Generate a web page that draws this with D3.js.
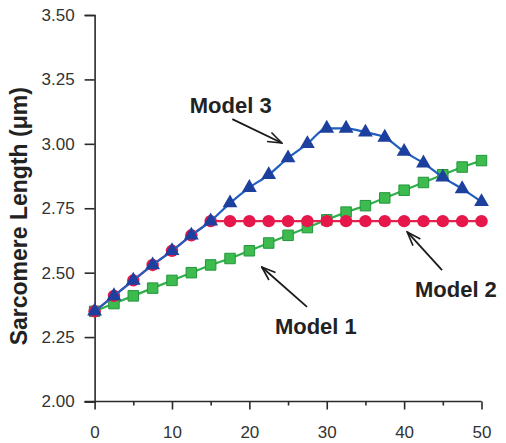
<!DOCTYPE html>
<html>
<head>
<meta charset="utf-8">
<script src="https://cdn.jsdelivr.net/npm/d3@7"></script>
<style>
  body { margin: 0; background: #fff; }
  text { font-family: "Liberation Sans", Arial, sans-serif; }
</style>
</head>
<body>
<div class="box"></div>
<script>
// data
const xs = [0, 2.5, 5, 7.5, 10, 12.5, 15, 17.5, 20, 22.5, 25, 27.5, 30, 32.5, 35, 37.5, 40, 42.5, 45, 47.5, 50]
const model1 = [2.35, 2.38, 2.41, 2.44, 2.47, 2.50, 2.53, 2.555, 2.585, 2.615, 2.645, 2.675, 2.705, 2.735, 2.76, 2.79, 2.82, 2.85, 2.88, 2.91, 2.935]
const model2 = [2.35, 2.41, 2.47, 2.53, 2.585, 2.645, 2.70, 2.70, 2.70, 2.70, 2.70, 2.70, 2.70, 2.70, 2.70, 2.70, 2.70, 2.70, 2.70, 2.70, 2.70]
const model3 = [2.35, 2.41, 2.47, 2.53, 2.585, 2.645, 2.70, 2.77, 2.83, 2.88, 2.945, 3.00, 3.06, 3.06, 3.045, 3.025, 2.97, 2.925, 2.87, 2.825, 2.775]
const yTicks = [2.00, 2.25, 2.50, 2.75, 3.00, 3.25, 3.50]
const xTicks = [0, 10, 20, 30, 40, 50]
const xMinor = [5, 15, 25, 35, 45]
const yTitle = 'Sarcomere Length (μm)'

// labels and their arrows, in data units: [text, textX, textY, fromX, fromY, toX, toY]
const notes = [
  ['Model 3', 12.3, 3.12, 17.8, 3.096, 24.2, 3.003],
  ['Model 2', 41.4, 2.406, 44.9, 2.51, 40.4, 2.658],
  ['Model 1', 23.3, 2.262, 27.45, 2.367, 21.6, 2.522]
]

const W = 506, H = 443
const margin = {top: 15, right: 24.5, bottom: 41.5, left: 94.6}
const graphWidth = W - margin.left - margin.right
const graphHeight = H - margin.top - margin.bottom

const svg = d3.select('.box')
  .append('svg')
  .attr('width', W)
  .attr('height', H)

const graph = svg.append('g')
  .attr('transform', `translate(${margin.left}, ${margin.top})`)

const x = d3.scaleLinear().domain([0, 50]).range([0, graphWidth])
const y = d3.scaleLinear().domain([2, 3.5]).range([graphHeight, 0])

const axisColor = '#2a2a2a'

// axes
const axeX = d3.axisBottom(x).tickValues(xTicks).tickSize(8).tickPadding(16).tickFormat(d3.format('d'))
const axeXMinor = d3.axisBottom(x).tickValues(xMinor).tickSize(4).tickFormat('')
const axeY = d3.axisLeft(y).tickValues(yTicks).tickSize(10).tickPadding(10).tickFormat(d3.format('.2f'))

const groupX = graph.append('g').attr('transform', `translate(0, ${graphHeight})`)
groupX.call(axeX)
graph.append('g').attr('transform', `translate(0, ${graphHeight})`).call(axeXMinor)
  .select('.domain').remove()
const groupY = graph.append('g').call(axeY)

graph.selectAll('.domain').attr('stroke', axisColor).attr('stroke-width', 1.6)
graph.selectAll('.tick line').attr('stroke', axisColor).attr('stroke-width', 1.6)
graph.selectAll('.tick text').attr('fill', '#333').style('font-size', '17px')
  .style('font-family', '"Liberation Sans", Arial, sans-serif')
// x axis line reaches the end of the 2.00 tick
groupX.select('.domain').attr('d', `M-10,0H${graphWidth}`)

// y title
svg.append('text')
  .attr('transform', `translate(27, ${margin.top + graphHeight / 2 + 8}) rotate(-90)`)
  .attr('text-anchor', 'middle')
  .attr('fill', '#222')
  .style('font-size', '23px')
  .style('font-weight', 'bold')
  .text(yTitle)

// series
const series = [
  {vals: model1, line: '#2fb04a', shape: 'square'},
  {vals: model2, line: '#e5214d', shape: 'circle'},
  {vals: model3, line: '#1f5fc0', shape: 'triangle'}
]

series.forEach(s => {
  const pts = xs.map((v, i) => [v, s.vals[i]])
  const line = d3.line()
    .x(d => x(d[0]))
    .y(d => y(d[1]))
    .curve(s.shape === 'triangle' ? d3.curveMonotoneX : d3.curveLinear)
  graph.append('path')
    .datum(pts)
    .attr('fill', 'none')
    .attr('stroke', s.line)
    .attr('stroke-width', 2.2)
    .attr('d', line)

  const g = graph.append('g')
  if (s.shape === 'circle') {
    g.selectAll('circle').data(pts).enter().append('circle')
      .attr('cx', d => x(d[0]))
      .attr('cy', d => y(d[1]))
      .attr('r', 6.2)
      .attr('fill', '#e5174b')
  } else if (s.shape === 'square') {
    g.selectAll('path').data(pts).enter().append('path')
      .attr('d', d3.symbol(d3.symbolSquare, 110))
      .attr('transform', d => `translate(${x(d[0])}, ${y(d[1])})`)
      .attr('fill', '#3dbb4e')
      .attr('stroke', '#23963b')
      .attr('stroke-width', 1)
  } else {
    g.selectAll('path').data(pts).enter().append('path')
      .attr('d', d3.symbol(d3.symbolTriangle, 95))
      .attr('transform', d => `translate(${x(d[0])}, ${y(d[1])})`)
      .attr('fill', '#1d3f9e')
  }
})

// annotations
svg.append('defs').append('marker')
  .attr('id', 'head')
  .attr('viewBox', '0 0 16 12')
  .attr('refX', 15)
  .attr('refY', 6)
  .attr('markerWidth', 16)
  .attr('markerHeight', 12)
  .attr('markerUnits', 'userSpaceOnUse')
  .attr('orient', 'auto')
  .append('path')
  .attr('d', 'M1,1 L15,6 L1,11')
  .attr('fill', 'none')
  .attr('stroke', '#1a1a1a')
  .attr('stroke-width', 1.6)

notes.forEach(n => {
  graph.append('text')
    .attr('x', x(n[1]))
    .attr('y', y(n[2]))
    .attr('fill', '#222')
    .style('font-size', '22px')
    .style('font-weight', 'bold')
    .text(n[0])
  graph.append('line')
    .attr('x1', x(n[3])).attr('y1', y(n[4]))
    .attr('x2', x(n[5])).attr('y2', y(n[6]))
    .attr('stroke', '#1a1a1a')
    .attr('stroke-width', 1.8)
    .attr('marker-end', 'url(#head)')
})
</script>
</body>
</html>
